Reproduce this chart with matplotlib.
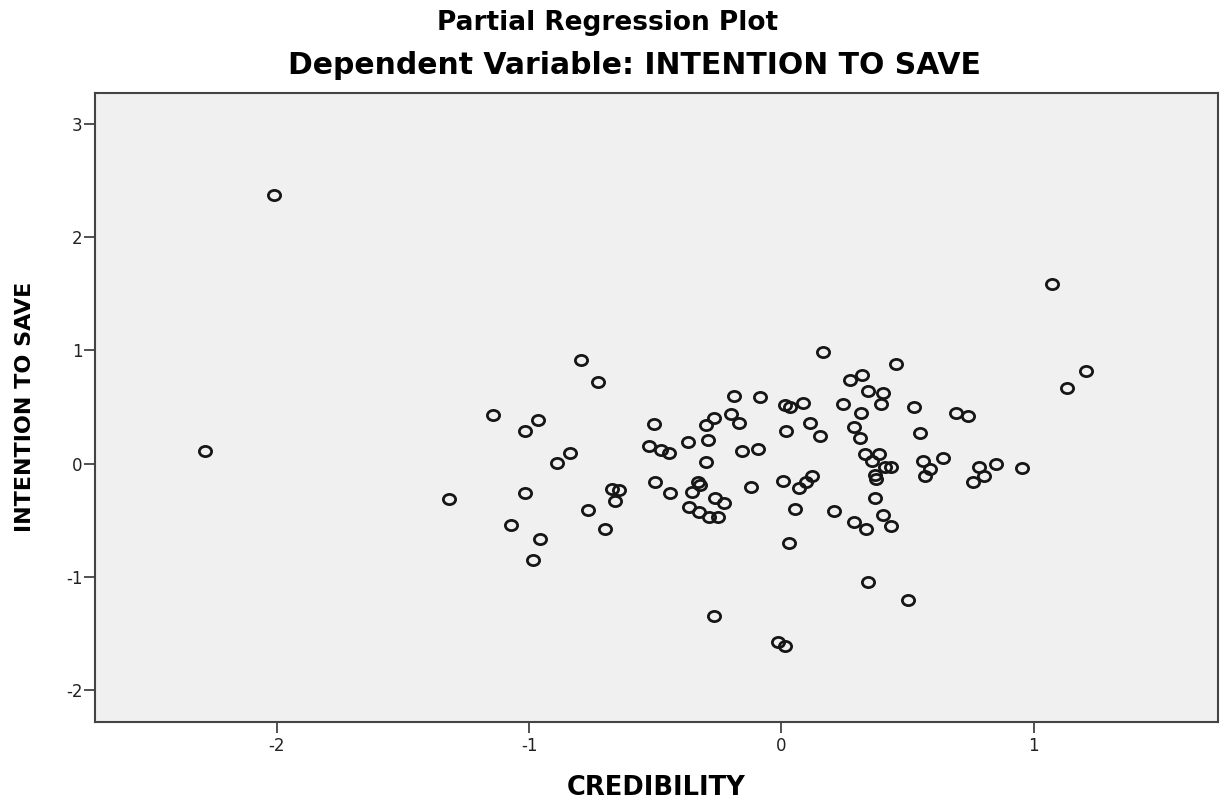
import matplotlib
matplotlib.use("Agg")
import matplotlib.pyplot as plt
from matplotlib.path import Path
from matplotlib.transforms import Affine2D

title = "Partial Regression Plot"
subtitle = "Dependent Variable: INTENTION TO SAVE"
x_label = "CREDIBILITY"
y_label = "INTENTION TO SAVE"
x_ticks = [-2, -1, 0, 1]
y_ticks = [-2, -1, 0, 1, 2, 3]

credibility = [
    -2.012, -2.285, -1.319, -1.141, -1.017, -0.964, -1.017, -1.071, -0.957, -0.983,
    -0.890, -0.836, -0.793, -0.726, -0.766, -0.700, -0.670, -0.644, -0.660, -0.503,
    -0.525, -0.478, -0.445, -0.372, -0.299, -0.268, -0.292, -0.299, -0.188, -0.083,
    -0.198, -0.168, -0.156, -0.094, 0.015, 0.035, 0.084, 0.018, -0.499, -0.441,
    -0.331, -0.323, -0.354, -0.265, -0.226, -0.367, -0.325, -0.285, -0.251, -0.119,
    0.005, 0.068, 0.097, 0.123, 0.053, 0.032, -0.268, -0.015, 0.015, 0.166,
    0.454, 0.271, 0.320, 0.345, 0.401, 0.395, 0.245, 0.317, 0.524, 0.690,
    0.740, 0.115, 0.154, 0.287, 0.313, 0.548, 0.330, 0.386, 0.359, 0.411,
    0.433, 0.371, 0.376, 0.560, 0.639, 0.590, 0.567, 0.781, 0.852, 0.802,
    0.759, 0.953, 1.130, 1.206, 1.071, 0.208, 0.289, 0.336, 0.401, 0.435,
    0.369, 0.343, 0.500,
]
intention = [
    2.366, 0.110, -0.313, 0.430, 0.284, 0.389, -0.260, -0.539, -0.665, -0.850,
    0.002, 0.093, 0.912, 0.724, -0.412, -0.577, -0.225, -0.231, -0.333, 0.345,
    0.152, 0.122, 0.093, 0.187, 0.342, 0.398, 0.210, 0.016, 0.597, 0.586,
    0.442, 0.354, 0.113, 0.128, 0.513, 0.495, 0.536, 0.284, -0.166, -0.260,
    -0.166, -0.189, -0.254, -0.301, -0.348, -0.386, -0.427, -0.469, -0.471, -0.204,
    -0.154, -0.213, -0.160, -0.107, -0.401, -0.698, -1.344, -1.573, -1.611, 0.982,
    0.883, 0.742, 0.786, 0.641, 0.624, 0.522, 0.522, 0.448, 0.495, 0.448,
    0.421, 0.357, 0.242, 0.322, 0.222, 0.269, 0.084, 0.081, 0.025, -0.028,
    -0.028, -0.099, -0.137, 0.019, 0.051, -0.048, -0.107, -0.033, -0.007, -0.110,
    -0.163, -0.042, 0.663, 0.818, 1.588, -0.419, -0.518, -0.580, -0.454, -0.553,
    -0.304, -1.048, -1.200,
]

W, H = 1220, 802
fig = plt.figure(figsize=(W / 100, H / 100), dpi=100)
fig.patch.set_facecolor("white")
ax = fig.add_axes([95 / W, 1 - 722 / H, (1218 - 95) / W, (722 - 93) / H])
ax.set_facecolor("#f0f0f0")

ellipse = Path.unit_circle().transformed(Affine2D().scale(1.2, 1.0))
ax.plot(credibility, intention, linestyle="none", marker=ellipse,
        markersize=8.8, markerfacecolor="none", markeredgecolor="#161616",
        markeredgewidth=2.0)

ax.set_xlim(-2.72, 1.73)
ax.set_ylim(-2.28, 3.27)
ax.set_xticks(x_ticks)
ax.set_yticks(y_ticks)
ax.set_xticklabels([str(t) for t in x_ticks])
ax.set_yticklabels([str(t) for t in y_ticks])
ax.tick_params(axis="both", direction="out", length=8, width=1.2, color="#333333",
               labelsize=12, labelcolor="#222222")
ax.tick_params(axis="y", pad=1)
ax.tick_params(axis="x", pad=3)
for s in ax.spines.values():
    s.set_color("#444444")
    s.set_linewidth(1.5)

fig.text(0.5 * (433 + 782) / W, 1 - 30 / H, title, ha="center", va="baseline",
         fontsize=19, fontweight="bold", family="DejaVu Sans")
fig.text(0.5 * (268 + 1000) / W, 1 - 74 / H, subtitle, ha="center", va="baseline",
         fontsize=21.5, fontweight="bold", family="DejaVu Sans")
fig.text((95 + 1218) / 2 / W, 1 - 795 / H, x_label, ha="center", va="baseline",
         fontsize=18.5, fontweight="bold", family="DejaVu Sans")
fig.text(25 / W, 1 - 407 / H, y_label, ha="center", va="center", rotation=90,
         fontsize=16, fontweight="bold", family="DejaVu Sans")

fig.savefig("out.png", dpi=100)
